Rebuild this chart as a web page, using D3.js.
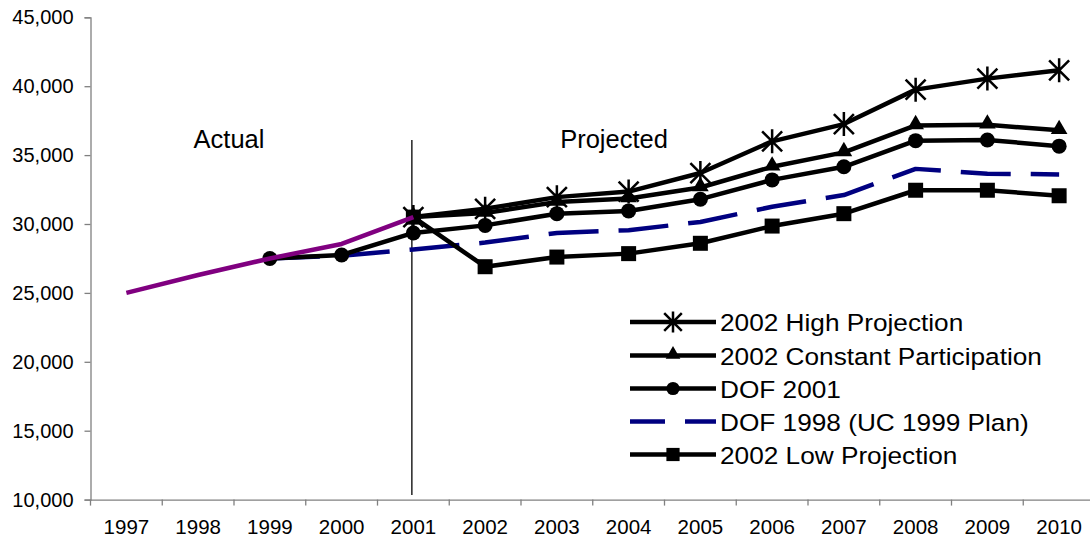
<!DOCTYPE html>
<html>
<head>
<meta charset="utf-8">
<script src="https://cdn.jsdelivr.net/npm/d3@7"></script>
<style>
  body { margin: 0; background: #fff; }
  text { font-family: Arial, "Liberation Sans", sans-serif; fill: #000; }
</style>
</head>
<body>
<script>
/* Years on the x axis */
var years = ['1997', '1998', '1999', '2000', '2001', '2002', '2003',
             '2004', '2005', '2006', '2007', '2008', '2009', '2010'];

/* Series values, null where a series has no point */
var actual = [25000, 26300, 27500, 28550, 30500, null, null,
              null, null, null, null, null, null, null];
var highProj = [null, null, null, null, 30500, 31100, 31950,
                32350, 33700, 36000, 37250, 39750, 40550, 41150];
var constPart = [null, null, null, null, 30500, 30800, 31600,
                 31850, 32650, 34150, 35200, 37150, 37200, 36800];
var dof2001 = [null, null, 27500, 27750, 29350, 29900, 30750,
               30950, 31800, 33200, 34150, 36050, 36100, 35650];
var dof1998 = [null, null, 27500, 27700, 28150, 28650, 29350,
               29550, 30150, 31250, 32100, 34000, 33650, 33600];
var lowProj = [null, null, null, null, 30500, 26900, 27600,
               27850, 28600, 29850, 30750, 32450, 32450, 32050];

var yTicks = [10000, 15000, 20000, 25000, 30000, 35000, 40000, 45000];

var legendNames = ['2002 High Projection', '2002 Constant Participation',
                   'DOF 2001', 'DOF 1998 (UC 1999 Plan)', '2002 Low Projection'];

/* Plot area */
var width = 1090, height = 543;
var svg = d3.select('body').append('svg')
    .attr('width', width)
    .attr('height', height);

var x = d3.scaleBand().domain(years).range([90.5, 1095]).paddingInner(0).paddingOuter(0);
var y = d3.scaleLinear().domain([10000, 45000]).range([499.6, 17.3]);
function cx(d, i) { return x(years[i]) + x.bandwidth() / 2; }

/* Y axis */
var yAxis = svg.append('g')
    .attr('transform', 'translate(90.5,0)')
    .call(d3.axisLeft(y).tickValues(yTicks).tickSizeOuter(0).tickSize(6)
          .tickPadding(11).tickFormat(d3.format(',')));
yAxis.select('.domain').attr('stroke', '#808080').attr('stroke-width', 1.3);
yAxis.selectAll('.tick line').attr('stroke', '#808080').attr('stroke-width', 1.3);
yAxis.selectAll('text').attr('font-size', '20px').attr('fill', '#000');

/* X axis: labels at centres, ticks on the band edges */
var xAxis = svg.append('g')
    .attr('transform', 'translate(0,499.6)')
    .call(d3.axisBottom(x).tickSize(0).tickSizeOuter(0).tickPadding(20));
xAxis.select('.domain').attr('stroke', '#808080').attr('stroke-width', 1.3);
xAxis.selectAll('text').attr('font-size', '20.5px').attr('fill', '#000');
xAxis.selectAll('line.edge')
    .data(years)
    .enter().append('line')
    .attr('class', 'edge')
    .attr('x1', function (d) { return x(d); })
    .attr('x2', function (d) { return x(d); })
    .attr('y1', 0).attr('y2', 6)
    .attr('stroke', '#808080').attr('stroke-width', 1.3);

/* Actual / Projected divider and captions */
svg.append('line')
    .attr('x1', x('2001') + x.bandwidth() / 2 - 1.5)
    .attr('x2', x('2001') + x.bandwidth() / 2 - 1.5)
    .attr('y1', 140).attr('y2', 495)
    .attr('stroke', '#000').attr('stroke-width', 1.3);
svg.append('text').attr('x', 229).attr('y', 148).attr('text-anchor', 'middle')
    .attr('font-size', '25.5px').text('Actual');
svg.append('text').attr('x', 614).attr('y', 148).attr('text-anchor', 'middle')
    .attr('font-size', '25.5px').text('Projected');

/* Marker shapes */
function starPath(s) {
    var h = s / 2;
    return 'M' + (-h) + ',' + (-h) + 'L' + h + ',' + h +
        'M' + (-h) + ',' + h + 'L' + h + ',' + (-h) +
        'M0,' + (-h * 1.2) + 'L0,' + (h * 1.2);
}
function drawMarker(g, type, px, py, scale) {
    scale = scale || 1;
    if (type === 'star') {
        g.append('path').attr('d', starPath(20 * scale))
            .attr('transform', 'translate(' + px + ',' + py + ')')
            .attr('stroke', '#000').attr('stroke-width', 2.5).attr('fill', 'none');
    } else if (type === 'triangle') {
        g.append('path').attr('d', d3.symbol(d3.symbolTriangle, 120 * scale * scale)())
            .attr('transform', 'translate(' + px + ',' + (py - 1) + ')')
            .attr('fill', '#000');
    } else if (type === 'circle') {
        g.append('circle').attr('cx', px).attr('cy', py).attr('r', 7.5 * scale)
            .attr('fill', '#000');
    } else if (type === 'square') {
        var s = 15 * scale;
        g.append('rect').attr('x', px - s / 2).attr('y', py - s / 2)
            .attr('width', s).attr('height', s).attr('fill', '#000');
    }
}

var series = [
    {values: dof1998, color: '#000080', dash: '50,20', marker: null},
    {values: lowProj, color: '#000', dash: null, marker: 'square'},
    {values: dof2001, color: '#000', dash: null, marker: 'circle'},
    {values: constPart, color: '#000', dash: null, marker: 'triangle'},
    {values: highProj, color: '#000', dash: null, marker: 'star'},
    {values: actual, color: '#800080', dash: null, marker: null}
];

var line = d3.line()
    .defined(function (d) { return d !== null; })
    .x(cx)
    .y(function (d) { return y(d); });

series.forEach(function (s) {
    var g = svg.append('g');
    g.append('path')
        .attr('d', line(s.values))
        .attr('fill', 'none')
        .attr('stroke', s.color)
        .attr('stroke-width', 4.5)
        .attr('stroke-linejoin', 'round')
        .attr('stroke-dasharray', s.dash);
    if (s.marker) {
        s.values.forEach(function (v, i) {
            if (v !== null) drawMarker(g, s.marker, cx(v, i), y(v));
        });
    }
});

/* Legend */
var legendMarkers = ['star', 'triangle', 'circle', null, 'square'];
var legendRows = [322, 355.5, 388.5, 421.5, 454.5];
var legend = svg.append('g');
legendNames.forEach(function (name, i) {
    var row = legend.append('g');
    var ly = legendRows[i];
    row.append('line')
        .attr('x1', 630).attr('x2', 716).attr('y1', ly).attr('y2', ly)
        .attr('stroke', i === 3 ? '#000080' : '#000')
        .attr('stroke-width', 4.5)
        .attr('stroke-dasharray', i === 3 ? '35,20' : null);
    if (legendMarkers[i]) drawMarker(row, legendMarkers[i], 673, ly, 0.88);
    row.append('text')
        .attr('transform', 'translate(720,' + (ly + 9) + ') scale(1.07,1)')
        .attr('font-size', '24.5px').text(name);
});
</script>
</body>
</html>
